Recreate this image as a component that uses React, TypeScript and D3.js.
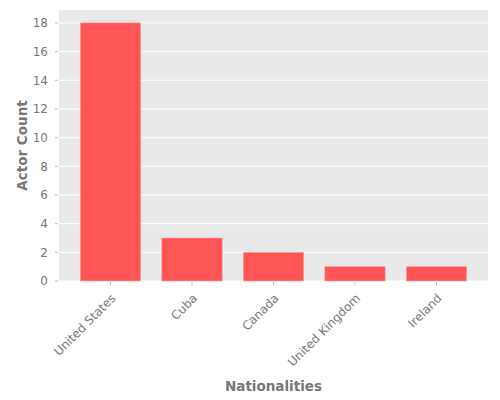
import React from "react";
import * as d3 from "d3";

const categories = ["United States", "Cuba", "Canada", "United Kingdom", "Ireland"];
const counts = [18, 3, 2, 1, 1];
const yTicks = [0, 2, 4, 6, 8, 10, 12, 14, 16, 18];

export default function App() {
  const W = 500, H = 400;
  const left = 59, right = 488, top = 10, bottom = 281;
  const x = d3.scaleLinear().domain([-0.632, categories.length - 1 + 0.632]).range([left, right]);
  const y = d3.scaleLinear().domain([0, 18.9]).range([bottom, top]);
  const bw = 0.74;
  const font = "DejaVu Sans, sans-serif";
  const tc = "#777";
  return (
    <svg width={W} height={H} style={{ position: "absolute", left: 0, top: 0, background: "#fff" }} fontFamily={font}>
      <rect x={left} y={top} width={right - left} height={bottom - top} fill="#E9E9E9" />
      {yTicks.map((t) => (
        <g key={t}>
          <line x1={left} x2={right} y1={y(t)} y2={y(t)} stroke="#fff" strokeWidth={1} />
          <line x1={left - 4} x2={left - 1} y1={y(t)} y2={y(t)} stroke="#aaa" strokeWidth={0.8} />
          <text x={left - 11} y={y(t)} dy="0.36em" textAnchor="end" fontSize={12} fill={tc}>{t}</text>
        </g>
      ))}
      {categories.map((c, i) => (
        <rect key={c} x={x(i - bw / 2)} y={y(counts[i])} width={x(i + bw / 2) - x(i - bw / 2)} height={y(0) - y(counts[i])}
          fill="#FF5555" stroke="#F8A0A0" strokeWidth={0.6} />
      ))}
      {categories.map((c, i) => (
        <g key={c}>
          <line x1={x(i)} x2={x(i)} y1={bottom + 1} y2={bottom + 4} stroke="#aaa" strokeWidth={0.8} />
          <text transform={`translate(${x(i) + 3},${bottom + 15}) rotate(-45)`} textAnchor="end" fontSize={12} fill={tc} dy="0.35em">{c}</text>
        </g>
      ))}
      <text x={(left + right) / 2} y={391} textAnchor="middle" fontSize={13.5} fill={tc} fontWeight="bold">Nationalities</text>
      <text transform={`translate(27,${(top + bottom) / 2}) rotate(-90)`} textAnchor="middle" fontSize={13.5} fill={tc} fontWeight="bold">Actor Count</text>
    </svg>
  );
}
